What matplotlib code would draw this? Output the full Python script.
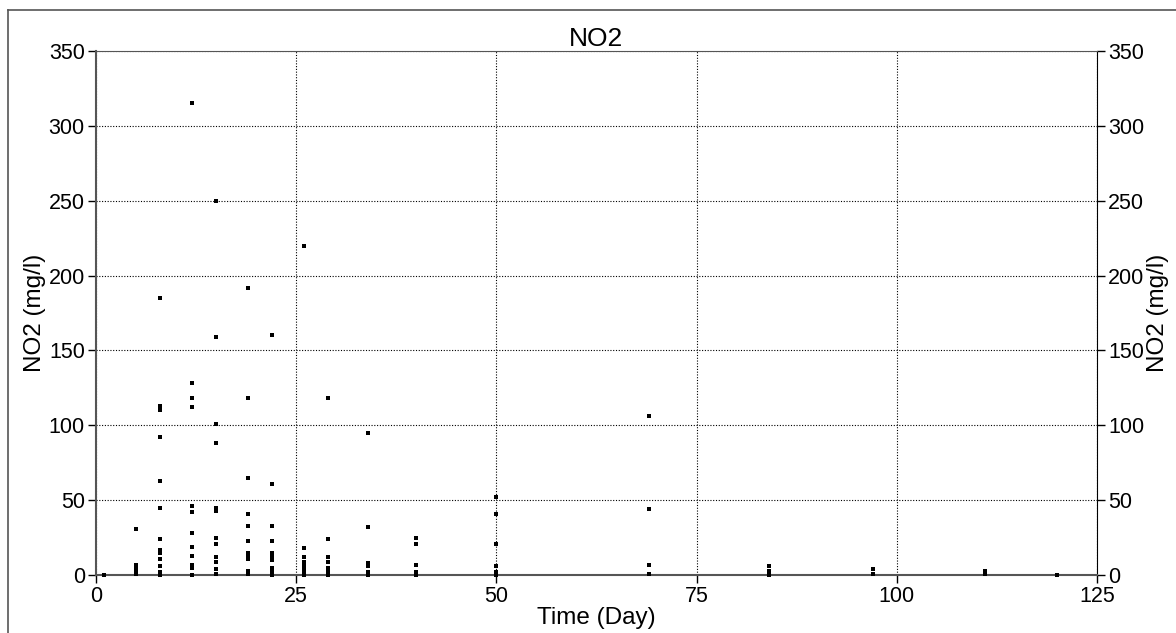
import matplotlib.pyplot as plt
from matplotlib.lines import Line2D

# sampling days and the NO2 readings taken on each day
days = [1, 5, 8, 12, 15, 19, 22, 26, 29, 34, 40, 50, 69, 84, 97, 111, 120]
no2 = [
    [0],
    [31, 7, 5, 3, 1],
    [185, 113, 110, 92, 63, 45, 24, 17, 15, 11, 6, 2, 0],
    [315, 128, 118, 112, 46, 42, 28, 19, 13, 7, 5, 0],
    [250, 159, 101, 88, 45, 43, 25, 21, 12, 9, 4, 1],
    [192, 118, 65, 41, 33, 23, 15, 13, 11, 3, 1],
    [160, 61, 33, 23, 15, 12, 10, 5, 2, 0],
    [220, 18, 12, 9, 7, 5, 2, 0],
    [118, 24, 12, 9, 5, 2, 0],
    [95, 32, 8, 6, 2, 0],
    [25, 21, 7, 2, 0],
    [52, 41, 21, 6, 2, 0],
    [106, 44, 7, 1],
    [6, 3, 0],
    [4, 1],
    [3, 1],
    [0],
]

xs = []
ys = []
for d, vals in zip(days, no2):
    for v in vals:
        xs.append(d)
        ys.append(v)

plt.rcParams['font.family'] = ['Liberation Sans', 'DejaVu Sans']

fig = plt.figure(figsize=(11.76, 6.33), dpi=100)
ax = fig.add_axes([0.0816, 0.0916, 0.8512, 0.8278])

ax.plot(xs, ys, 's', color='black', markersize=3.1, markeredgewidth=0, clip_on=False, zorder=5)

ax.set_xlim(0, 125)
ax.set_ylim(0, 350)
ax.set_xticks([0, 25, 50, 75, 100, 125])
ax.set_yticks(range(0, 351, 50))
ax.grid(True, linestyle=(0, (1, 1.5)), color='black', linewidth=0.8)
ax.tick_params(direction='out', length=6, labelsize=15.5, right=True, labelright=True, width=1, pad=2)

for s in ['left', 'bottom']:
    ax.spines[s].set_color('#555555')
    ax.spines[s].set_linewidth(1.5)
ax.spines['right'].set_color('black')
ax.spines['top'].set_color('#555555')

ax.set_title('NO2', fontsize=19, pad=2)
ax.set_xlabel('Time (Day)', fontsize=17.5, labelpad=0)
ax.set_ylabel('NO2 (mg/l)', fontsize=17.5, labelpad=2)
ax2 = ax.secondary_yaxis('right')
ax2.set_yticks([])
ax2.spines['right'].set_visible(False)
ax2.set_ylabel('NO2 (mg/l)', fontsize=17.5, labelpad=36)

# outer frame lines on the left and top edge
fig.add_artist(Line2D([8 / 1176, 8 / 1176], [0, 1 - 10 / 633], transform=fig.transFigure, color='#555555', linewidth=1.2))
fig.add_artist(Line2D([8 / 1176, 1], [1 - 10 / 633, 1 - 10 / 633], transform=fig.transFigure, color='#555555', linewidth=1.2))

fig.savefig('out.png', dpi=100)
